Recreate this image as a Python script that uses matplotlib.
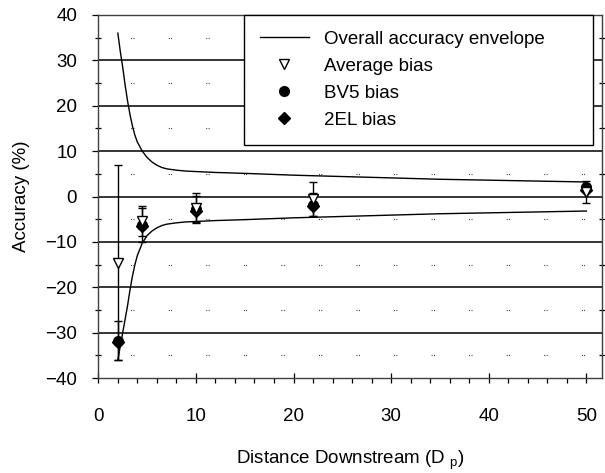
import matplotlib.pyplot as plt

plt.rcParams['font.family'] = ['Liberation Sans', 'DejaVu Sans']
plt.rcParams['mathtext.fontset'] = 'custom'
plt.rcParams['mathtext.rm'] = 'Liberation Sans'
plt.rcParams['mathtext.it'] = 'Liberation Sans'

# envelope
env_x = [2, 2.25, 2.5, 2.75, 3, 3.25, 3.5, 3.75, 4, 4.5, 5, 5.5, 6, 6.5, 7,
         8, 9, 10, 12, 15, 20, 25, 30, 35, 40, 45, 50]
env_upper = [36, 32, 28.5, 24.5, 21, 18, 15.5, 13.5, 12, 10, 8.6, 7.6, 6.9,
             6.4, 6.1, 5.8, 5.6, 5.5, 5.3, 5.1, 4.7, 4.4, 4.1, 3.8, 3.6, 3.4, 3.2]
env_lower = [-36, -33, -30, -27, -24, -20.5, -17.5, -15, -13, -10.3, -8.6,
             -7.6, -6.9, -6.4, -6.1, -5.8, -5.6, -5.5, -5.3, -5.1, -4.7, -4.4,
             -4.1, -3.8, -3.6, -3.4, -3.2]

dist = [2, 4.5, 10, 22, 50]
avg_bias = [-14.6, -5.5, -2.5, -0.6, 1.0]
avg_err = [21.5, 3.3, 3.2, 3.7, 2.5]
bv5_bias = [-31.8, -6.3, -2.8, -1.8, 2.1]
bv5_err = [4.3, 3.7, 3.0, 2.5, 0.0]
el2_bias = [-32.0, -6.6, -3.2, -2.2, 1.5]

fs = 13.5

fig = plt.figure(figsize=(6.05, 4.73), dpi=100)
ax = fig.add_axes([0.1625, 0.2008, 0.8325, 0.7675])

# grid: solid at 10s, sparse dots at 5s
for y in range(-30, 40, 10):
    ax.axhline(y, color='black', lw=1.1, zorder=1)
for y in range(-35, 40, 10):
    ax.axhline(y, color='black', lw=0.8, zorder=1,
               linestyle=(4.3, (0.7, 1.4, 0.7, 31)))

ax.plot(env_x, env_upper, color='black', lw=1.0, zorder=2,
        label='Overall accuracy envelope')
ax.plot(env_x, env_lower, color='black', lw=1.0, zorder=2)

ax.errorbar(dist, avg_bias, yerr=avg_err, fmt='none', ecolor='black',
            elinewidth=1.0, capsize=3, capthick=1.0, zorder=3)
ax.errorbar(dist, bv5_bias, yerr=bv5_err, fmt='none', ecolor='black',
            elinewidth=1.0, capsize=3, capthick=1.0, zorder=3)
ax.plot(dist, el2_bias, 'D', color='black', ms=6.5, ls='none', zorder=4,
        label='2EL bias')
ax.plot(dist, bv5_bias, 'o', color='black', ms=7, ls='none', zorder=4,
        label='BV5 bias')
ax.plot(dist, avg_bias, 'v', mfc='white', mec='black', mew=1.0, ms=7,
        ls='none', zorder=5, label='Average bias')

ax.set_xlim(0, 51.6)
ax.set_ylim(-40, 40)
ax.set_xticks(range(0, 51, 10))
ax.set_xticks(range(0, 52, 2), minor=True)
ax.set_yticks(range(-40, 41, 10))
ax.set_yticks(range(-35, 40, 10), minor=True)
ax.set_yticklabels(['\u221240', '\u221230', '\u221220', '\u221210', '0',
                    '10', '20', '30', '40'])
ax.tick_params(axis='both', which='both', labelsize=fs, color='black', width=0.9)
ax.tick_params(axis='x', which='major', direction='inout', length=7, pad=18)
ax.tick_params(axis='x', which='minor', direction='out', length=3.5)
ax.tick_params(axis='y', which='major', direction='out', length=4.3, pad=11)
ax.tick_params(axis='y', which='minor', direction='inout', length=5, right=True)
for s in ax.spines.values():
    s.set_linewidth(1.0)
    s.set_color('#404040')

ax.set_ylabel('Accuracy (%)', fontsize=fs, labelpad=11)
ax.set_xlabel('Distance Downstream (D $_{\\rm p}$)', fontsize=fs, labelpad=17)

h, lab = ax.get_legend_handles_labels()
order = [0, 3, 2, 1]
leg = ax.legend([h[i] for i in order], [lab[i] for i in order],
                loc='upper left', bbox_to_anchor=(0.289, 0.0, 0.693, 1.0),
                mode='expand', fontsize=fs, frameon=True, fancybox=False,
                edgecolor='black', framealpha=1, borderpad=0.85,
                handlelength=2.6, handletextpad=0.85, labelspacing=0.52,
                borderaxespad=0)
leg.get_frame().set_linewidth(1.0)
leg.set_zorder(6)

fig.savefig('out.png', dpi=100)
